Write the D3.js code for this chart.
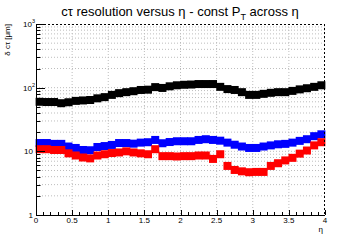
<!DOCTYPE html>
<html>
<head>
<meta charset="utf-8">
<script src="https://cdn.jsdelivr.net/npm/d3@7"></script>
<style>
  body { margin: 0; background: #fff; }
  text { font-family: "Liberation Sans", Arial, sans-serif; }
</style>
</head>
<body>
<svg id="chart" width="360" height="240"></svg>
<script>
// eta bins (lower edges), 0.1 wide, 0 -> 4
const etaBins = d3.range(40).map(i => i * 0.1);

// delta c-tau [um] per eta bin
const blackVals = [60, 59.5, 59.5, 57, 59, 62, 63, 64, 68, 71,
                   77, 82, 85, 88, 92, 93, 102, 99, 105, 109,
                   111, 112, 114, 114, 114, 103, 95, 92, 85, 77,
                   77, 80, 83, 85, 85, 89, 94, 98, 103, 109];
const blueVals = [13.5, 13.5, 13.1, 13.1, 11.9, 11.3, 10.5, 10.4, 11.7, 12.1,
                  12.6, 13.5, 13.5, 13.2, 13.7, 13.9, 15.1, 13.4, 14.0, 14.4,
                  14.4, 14.4, 15.1, 15.5, 15.1, 14.7, 13.7, 12.7, 11.9, 11.3,
                  11.3, 11.9, 12.4, 12.9, 13.1, 13.7, 14.6, 15.5, 17.3, 18.5];
const redVals = [10.8, 10.8, 10.5, 10.5, 9.3, 8.6, 8.0, 7.75, 8.6, 9.0,
                 9.4, 9.6, 10.0, 9.6, 9.3, 9.0, 10.8, 8.4, 8.4, 8.3,
                 8.4, 8.4, 8.6, 8.6, 7.6, 9.0, 5.9, 5.1, 4.85, 4.7,
                 4.75, 4.75, 5.9, 6.5, 7.2, 7.9, 9.2, 10.3, 12.4, 13.9];

const xTicks = [0, 0.5, 1, 1.5, 2, 2.5, 3, 3.5, 4];
const yMajor = [1, 10, 100, 1000];

const series = [
  { name: "black", color: "#000000", values: blackVals },
  { name: "blue", color: "#0000ff", values: blueVals },
  { name: "red", color: "#ff0000", values: redVals }
];

const margin = { top: 24, right: 35, bottom: 25, left: 36 };
const width = 360 - margin.left - margin.right;
const height = 240 - margin.top - margin.bottom;

const svg = d3.select("#chart");
const g = svg.append("g").attr("transform", `translate(${margin.left},${margin.top})`);

const x = d3.scaleLinear().domain([0, 4]).range([0, width]);
const y = d3.scaleLog().domain([1, 1000]).range([height, 0]);

// minor log values
const yMinor = [];
yMajor.slice(0, -1).forEach(d => { for (let k = 2; k <= 9; k++) yMinor.push(d * k); });
const xMinor = d3.range(0, 40).map(i => i * 0.1);

// grid
const gridColor = "#bdbdbd";
g.append("g").selectAll("line").data(xTicks.slice(1, -1)).join("line")
  .attr("x1", d => x(d)).attr("x2", d => x(d))
  .attr("y1", 0).attr("y2", height)
  .attr("stroke", gridColor).attr("stroke-dasharray", "1,2");
g.append("g").selectAll("line").data(yMinor.concat([10, 100])).join("line")
  .attr("x1", 0).attr("x2", width)
  .attr("y1", d => y(d)).attr("y2", d => y(d))
  .attr("stroke", gridColor).attr("stroke-dasharray", "1,2");

// markers
series.forEach(s => {
  g.append("g").selectAll("rect").data(s.values).join("rect")
    .attr("x", (d, i) => x(etaBins[i] + 0.05) - 4)
    .attr("y", d => y(d) - 4)
    .attr("width", 8).attr("height", 8)
    .attr("fill", s.color);
});

// frame: top/right dotted, left/bottom solid
g.append("line").attr("x1", 0).attr("x2", width).attr("y1", 0.5).attr("y2", 0.5)
  .attr("stroke", "#000").attr("stroke-dasharray", "2,2");
g.append("line").attr("x1", width - 0.5).attr("x2", width - 0.5).attr("y1", 0).attr("y2", height)
  .attr("stroke", "#000").attr("stroke-dasharray", "2,2");

// x axis
const xAxis = g.append("g").attr("transform", `translate(0,${height})`);
xAxis.append("line").attr("x1", 0).attr("x2", width).attr("y1", 0.5).attr("y2", 0.5).attr("stroke", "#000");
xAxis.selectAll(".minor").data(xMinor).join("line")
  .attr("x1", d => Math.round(x(d)) + 0.5).attr("x2", d => Math.round(x(d)) + 0.5)
  .attr("y1", 0).attr("y2", -3).attr("stroke", "#000");
xAxis.selectAll(".major").data(xTicks).join("line")
  .attr("x1", d => Math.round(x(d)) + 0.5).attr("x2", d => Math.round(x(d)) + 0.5)
  .attr("y1", 0).attr("y2", -5).attr("stroke", "#000");
xAxis.selectAll("text").data(xTicks).join("text")
  .attr("x", d => x(d)).attr("y", 7.5)
  .attr("text-anchor", "middle").attr("font-size", 8)
  .text(d => d);

// y axis
const yAxis = g.append("g");
yAxis.append("line").attr("x1", 0.5).attr("x2", 0.5).attr("y1", 0).attr("y2", height).attr("stroke", "#000");
yAxis.selectAll(".minor").data(yMinor).join("line")
  .attr("x1", 0).attr("x2", 4.5)
  .attr("y1", d => Math.round(y(d)) + 0.5).attr("y2", d => Math.round(y(d)) + 0.5).attr("stroke", "#000");
yAxis.selectAll(".major").data(yMajor).join("line")
  .attr("x1", 0).attr("x2", 9)
  .attr("y1", d => Math.round(y(d)) + 0.5).attr("y2", d => Math.round(y(d)) + 0.5).attr("stroke", "#000");
yAxis.selectAll("text").data(yMajor).join("text")
  .attr("y", d => y(d) + 3)
  .attr("font-size", 8)
  .each(function (d) {
    const t = d3.select(this);
    const p = Math.round(Math.log10(d));
    if (p < 2) {
      t.attr("x", -3).attr("text-anchor", "end").text(d);
    } else {
      t.attr("x", -13).attr("text-anchor", "start");
      t.append("tspan").text("10");
      t.append("tspan").attr("dy", -4).attr("font-size", 5.5).text(p);
    }
  });

// axis titles
svg.append("text")
  .attr("transform", `translate(10,${margin.top}) rotate(-90)`)
  .attr("text-anchor", "end").attr("font-size", 8)
  .text("δ cτ [μm]");
svg.append("text")
  .attr("x", margin.left + width - 2).attr("y", 231.5)
  .attr("text-anchor", "end").attr("font-size", 8)
  .text("η");

// title
const title = svg.append("text")
  .attr("x", 180).attr("y", 16)
  .attr("text-anchor", "middle").attr("font-size", 13);
title.append("tspan").text("cτ resolution versus η - const P");
title.append("tspan").attr("dy", 4).attr("font-size", 9).text("T");
title.append("tspan").attr("dy", -4).text(" across η");
</script>
</body>
</html>
